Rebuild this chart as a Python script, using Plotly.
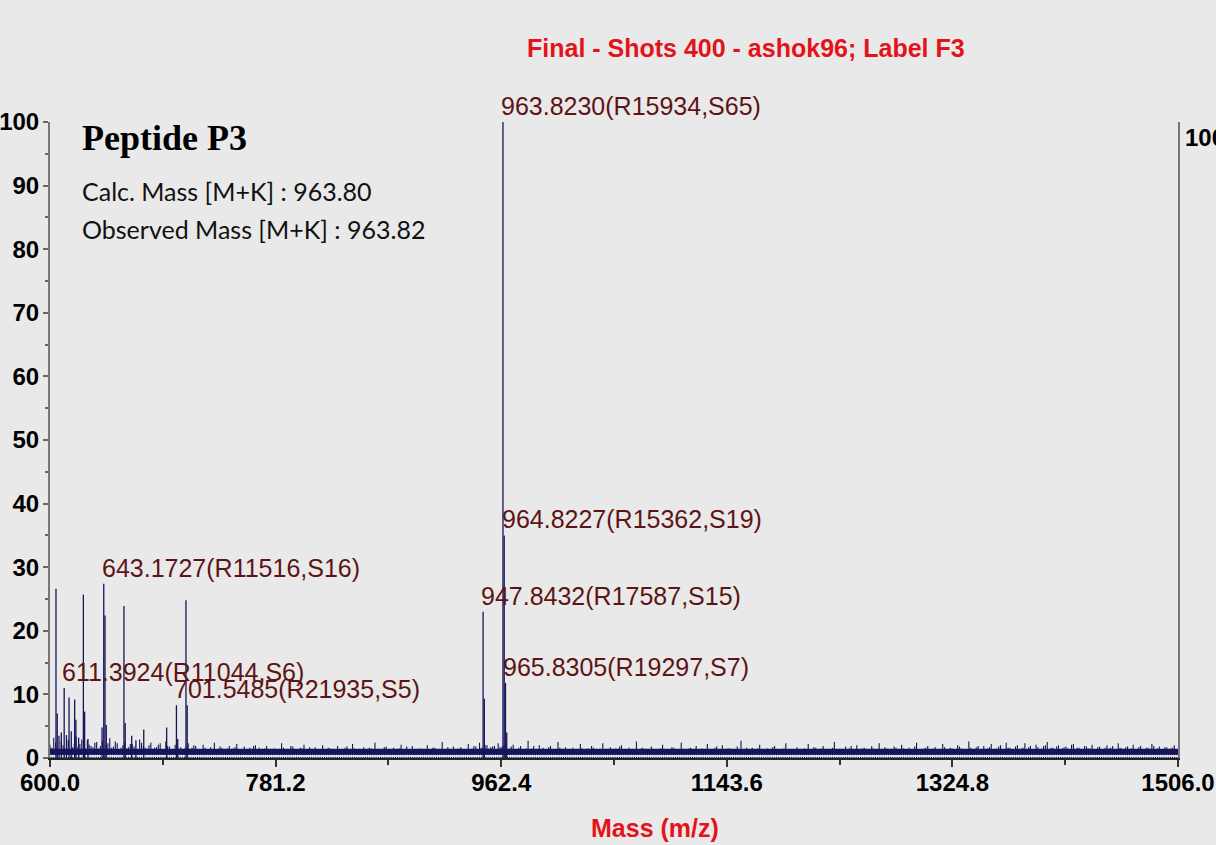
import numpy as np
import plotly.graph_objects as go

# ---- spectrum data -------------------------------------------------------
# centroided peaks (m/z, relative intensity %)
peak_mz = [604.8, 605.8, 607.2, 609.1, 611.3924, 613.2, 615.3, 617.1, 619.8, 620.8,
           623.0, 626.8, 627.8, 630.5, 641.8, 643.1727, 644.17, 645.2, 659.4, 660.4,
           665.6, 669.0, 675.3, 693.7, 701.5485, 702.6, 709.2, 710.2,
           947.8432, 948.84, 963.8230, 964.8227, 965.8305, 966.83]
peak_int = [26.6, 7.0, 3.5, 4.0, 11.0, 3.6, 9.5, 4.2, 9.2, 6.0,
            3.2, 25.7, 7.3, 3.0, 4.8, 27.4, 22.4, 5.2, 23.9, 5.5,
            3.5, 2.8, 4.5, 4.8, 8.3, 3.0, 24.8, 8.3,
            23.0, 9.3, 100.0, 35.0, 11.8, 4.0]

# annotated peaks: m/z, resolution, signal-to-noise
label_mz = [611.3924, 643.1727, 701.5485, 947.8432, 963.8230, 964.8227, 965.8305]
label_res = [11044, 11516, 21935, 17587, 15934, 15362, 19297]
label_sn = [6, 16, 5, 15, 65, 19, 7]

# baseline noise, two interleaved samplings (every 3 Da, offset by 1.5 Da)
noise_a_start, noise_b_start, noise_step = 600.0, 601.5, 3.0
noise_a = [
    2.1, 3.2, 1.8, 2.6, 1.5, 2.9, 1.7, 3.4, 2.2, 1.6, 2.8, 1.9, 2.4, 1.5, 2.7, 2.0, 3.1, 1.8, 2.3, 1.6,
    2.5, 1.7, 2.2, 1.4, 2.9, 1.9, 1.5, 2.4, 1.6, 2.1, 1.3, 2.6, 1.8, 1.4, 2.2, 1.7, 1.5, 2.3, 1.6, 1.9,
    1.4, 2.1, 1.2, 1.7, 2.4, 1.3, 1.6, 1.1, 1.9, 1.5, 2.2, 1.2, 1.8, 1.4, 1.1, 2.0, 1.6, 1.3, 1.9, 1.2,
    1.5, 1.1, 2.3, 1.4, 1.2, 1.8, 1.0, 1.6, 2.1, 1.3, 1.1, 1.7, 1.4, 2.0, 1.2, 1.5, 1.0, 1.9, 1.3, 1.6,
    1.1, 2.2, 1.4, 1.2, 1.7, 1.0, 1.5, 2.4, 1.3, 1.1, 1.8, 1.2, 1.6, 1.0, 2.1, 1.4, 1.2, 1.9, 1.1, 1.5,
    1.3, 2.0, 1.1, 1.6, 1.2, 2.5, 1.4, 1.1, 1.8, 1.3, 1.7, 1.2, 2.2, 1.5, 1.8, 2.4, 1.6, 2.0, 1.7, 1.9,
    2.3, 1.8, 2.6, 1.5, 2.1, 1.4, 1.9, 1.2, 2.7, 1.5, 1.3, 2.0, 1.6, 1.2, 1.9, 1.4, 2.5, 1.3, 1.7, 1.1,
    1.6, 1.3, 2.2, 1.1, 1.5, 1.9, 1.2, 1.4, 2.3, 1.0, 1.7, 1.3, 1.1, 2.0, 1.4, 1.6, 1.2, 2.6, 1.3, 1.5,
    1.1, 1.8, 1.3, 1.0, 2.1, 1.4, 1.2, 1.6, 1.1, 2.4, 1.3, 1.5, 1.0, 1.9, 1.2, 1.4, 2.2, 1.1, 1.6, 1.3,
    2.0, 1.2, 1.5, 1.1, 1.8, 2.7, 1.3, 1.0, 1.6, 1.4, 2.1, 1.2, 1.5, 1.1, 1.9, 1.3, 1.0, 2.3, 1.4, 1.2,
    1.7, 1.1, 1.5, 2.2, 1.3, 1.6, 1.0, 1.9, 1.4, 1.2, 2.5, 1.3, 1.1, 1.8, 1.5, 1.2, 2.0, 1.4, 1.6, 1.1,
    1.9, 1.3, 2.3, 1.2, 1.5, 1.0, 1.8, 1.4, 2.1, 1.2, 1.6, 1.1, 2.4, 1.3, 1.5, 1.9, 1.2, 1.7, 1.4, 2.2,
    1.3, 1.6, 1.1, 2.0, 1.5, 1.2, 2.6, 1.4, 1.7, 1.3, 1.9, 1.5, 2.2, 1.4, 1.8, 1.2, 2.4, 1.6, 1.3, 2.0,
    1.5, 2.3, 1.7, 1.4, 2.1, 1.3, 1.9, 2.5, 1.6, 1.4, 2.0, 1.5, 1.8, 1.3, 2.2, 1.6, 1.4, 1.9, 1.5, 2.1,
    1.4, 1.8, 1.3, 2.0, 1.6, 1.2, 2.3, 1.5, 1.7, 1.3, 2.1, 1.4, 1.9, 1.2, 1.6, 2.2, 1.4, 1.8, 1.3, 1.7,
    1.5, 2.0, 1.4,
]
noise_b = [
    1.6, 2.4, 1.3, 2.0, 2.7, 1.4, 2.2, 1.8, 2.9, 1.5, 2.1, 1.7, 2.5, 1.9, 1.4, 2.3, 1.6, 2.6, 1.3, 2.0,
    1.5, 2.2, 1.8, 1.3, 2.4, 1.6, 2.0, 1.2, 1.7, 2.3, 1.4, 1.9, 1.2, 2.1, 1.5, 1.3, 1.8, 1.1, 2.0, 1.4,
    1.2, 1.6, 1.0, 1.4, 1.1, 1.8, 1.3, 1.5, 1.0, 1.7, 1.2, 1.4, 1.1, 1.6, 1.9, 1.2, 1.0, 1.5, 1.3, 1.1,
    1.4, 1.0, 1.6, 1.2, 1.9, 1.1, 1.3, 1.5, 1.0, 1.7, 1.2, 1.4, 1.0, 1.3, 1.6, 1.1, 1.4, 1.2, 1.0, 1.8,
    1.2, 1.5, 1.0, 1.3, 1.1, 1.6, 1.2, 1.0, 1.4, 1.7, 1.1, 1.3, 1.0, 1.5, 1.2, 1.8, 1.1, 1.3, 1.0, 1.4,
    1.1, 1.3, 1.6, 1.0, 1.4, 1.2, 1.7, 1.3, 1.0, 1.5, 1.2, 1.4, 1.1, 1.9, 1.4, 1.6, 2.1, 1.5, 1.8, 1.4,
    1.7, 2.0, 1.4, 1.8, 1.3, 1.6, 1.1, 1.5, 1.3, 1.9, 1.2, 1.4, 1.1, 1.7, 1.3, 1.0, 1.6, 1.2, 1.4, 1.0,
    1.3, 1.1, 1.5, 1.2, 1.0, 1.6, 1.3, 1.1, 1.4, 1.2, 1.0, 1.5, 1.8, 1.1, 1.3, 1.0, 1.4, 1.2, 1.6, 1.1,
    1.4, 1.0, 1.2, 1.5, 1.1, 1.3, 1.7, 1.0, 1.4, 1.2, 1.0, 1.6, 1.3, 1.1, 1.5, 1.0, 1.3, 1.2, 1.8, 1.1,
    1.3, 1.5, 1.0, 1.4, 1.2, 1.1, 1.6, 1.3, 1.0, 1.5, 1.2, 1.4, 1.0, 1.7, 1.1, 1.3, 1.5, 1.0, 1.2, 1.4,
    1.2, 1.4, 1.1, 1.3, 1.7, 1.0, 1.5, 1.2, 1.1, 1.6, 1.3, 1.0, 1.4, 1.2, 1.9, 1.1, 1.3, 1.5, 1.0, 1.4,
    1.5, 1.1, 1.4, 1.7, 1.2, 1.3, 1.6, 1.0, 1.5, 1.2, 1.4, 1.8, 1.1, 1.3, 1.6, 1.2, 1.5, 1.1, 1.4, 1.7,
    1.2, 1.5, 1.3, 1.8, 1.1, 1.4, 1.6, 1.2, 1.9, 1.4, 1.3, 1.7, 1.2, 1.5, 2.0, 1.3, 1.6, 1.4, 1.8, 1.2,
    1.6, 1.4, 1.9, 1.3, 1.7, 1.5, 2.0, 1.4, 1.6, 1.8, 1.3, 1.7, 1.5, 2.1, 1.4, 1.6, 1.3, 1.8, 1.5, 1.4,
    1.7, 1.3, 1.6, 1.5, 1.9, 1.4, 1.6, 1.2, 1.8, 1.5, 1.3, 1.7, 1.4, 1.6, 1.3, 1.9, 1.5, 1.4, 1.7, 1.3,
    1.6, 1.4,
]
noise_level = 1.0  # dense noise floor

# axis ticks
x_ticks = [600.0, 781.2, 962.4, 1143.6, 1324.8, 1506.0]
x_ticktext = ["600.0", "781.2", "962.4", "1143.6", "1324.8", "1506.0"]
y_ticks = [0, 10, 20, 30, 40, 50, 60, 70, 80, 90, 100]

# ---- styling -------------------------------------------------------------
BG = "#e9e9e9"
STICK = "#15155c"
LABEL = "#5e1414"
RED = "#e3131b"
SANS = "Liberation Sans, Arial, sans-serif"


def sticks(xs, ys):
    """Turn (m/z, intensity) pairs into vertical line segments."""
    sx, sy = [], []
    for m, h in zip(xs, ys):
        sx += [m, m, None]
        sy += [0, h, None]
    return sx, sy


noise_mz = np.concatenate([noise_a_start + noise_step * np.arange(len(noise_a)),
                           noise_b_start + noise_step * np.arange(len(noise_b))])
noise_int = noise_a + noise_b

fig = go.Figure()

nx, ny = sticks(noise_mz, noise_int)
fig.add_trace(go.Scatter(x=nx, y=ny, mode="lines",
                         line=dict(color=STICK, width=1.1), hoverinfo="skip"))
fig.add_trace(go.Scatter(x=[x_ticks[0], x_ticks[-1]], y=[noise_level, noise_level],
                         mode="lines", line=dict(color=STICK, width=6), hoverinfo="skip"))
fig.add_trace(go.Scatter(x=[x_ticks[0], x_ticks[-1]], y=[0.3, 0.3],
                         mode="lines", line=dict(color="white", width=1.5), hoverinfo="skip"))

px_, py_ = sticks(peak_mz, peak_int)
fig.add_trace(go.Scatter(x=px_, y=py_, mode="lines",
                         line=dict(color=STICK, width=1.3), hoverinfo="skip"))

# peak labels, placed just above each labelled stick
for m, r, s in zip(label_mz, label_res, label_sn):
    h = peak_int[peak_mz.index(m)]
    fig.add_annotation(x=m, y=h, xref="x", yref="y", xanchor="left", yanchor="bottom",
                       text=f"{m:.4f}(R{r},S{s})", showarrow=False, yshift=0, xshift=-4,
                       font=dict(family=SANS, size=25, color=LABEL))

# header and sample information
fig.add_annotation(x=0.617, y=1.116, xref="paper", yref="paper", xanchor="center",
                   yanchor="middle", showarrow=False,
                   text="Final - Shots 400 - ashok96; Label F3",
                   font=dict(family=SANS, size=25, color=RED, weight="bold"))
fig.add_annotation(x=0.536, y=-0.110, xref="paper", yref="paper", xanchor="center",
                   yanchor="middle", showarrow=False, text="Mass (m/z)",
                   font=dict(family=SANS, size=25, color=RED, weight="bold"))
fig.add_annotation(x=0.027, y=0.975, xref="paper", yref="paper", xanchor="left",
                   yanchor="middle", showarrow=False, text="Peptide P3",
                   font=dict(family="Liberation Serif, Times New Roman, serif", size=36,
                             color="black", weight="bold"))
fig.add_annotation(x=0.027, y=0.8915, xref="paper", yref="paper", xanchor="left",
                   yanchor="middle", showarrow=False, text="Calc. Mass [M+K] : 963.80",
                   font=dict(family="Lato, Open Sans, sans-serif", size=25, color="#111111"))
fig.add_annotation(x=0.027, y=0.832, xref="paper", yref="paper", xanchor="left",
                   yanchor="middle", showarrow=False, text="Observed Mass [M+K] : 963.82",
                   font=dict(family="Lato, Open Sans, sans-serif", size=25, color="#111111"))
# absolute intensity scale on the right edge
fig.add_annotation(x=1.004, y=0.976, xref="paper", yref="paper", xanchor="left",
                   yanchor="middle", showarrow=False, text="100",
                   font=dict(family=SANS, size=24, color="black", weight="bold"))

fig.update_layout(
    width=1216, height=845,
    margin=dict(l=50, r=38, t=122, b=87),
    paper_bgcolor=BG, plot_bgcolor=BG,
    showlegend=False,
    xaxis=dict(range=[x_ticks[0], x_ticks[-1]], tickmode="array", tickvals=x_ticks,
               ticktext=x_ticktext, ticks="outside", ticklen=7, tickwidth=1.5,
               tickcolor="#333333", showline=True, linecolor="#222222", linewidth=2,
               showgrid=False, zeroline=False, automargin=False,
               ticklabeloverflow="allow", ticklabelstandoff=-5,
               minor=dict(tick0=600.0, dtick=90.6, ticks="outside", ticklen=5,
                          tickcolor="#333333", showgrid=False),
               tickfont=dict(family=SANS, size=24, color="black", weight="bold")),
    yaxis=dict(range=[0, 100], tickmode="array", tickvals=y_ticks, ticks="outside",
               ticklen=5, tickwidth=1.5, tickcolor="#666666", showline=True,
               linecolor="#777777", linewidth=2, mirror=True, showgrid=False,
               zeroline=False, automargin=False, ticklabeloverflow="allow",
               ticklabelstandoff=-1,
               minor=dict(tick0=0, dtick=5, ticks="outside", ticklen=3,
                          tickcolor="#666666", showgrid=False),
               tickfont=dict(family=SANS, size=24, color="black", weight="bold")),
)

fig.write_html("out.html")
